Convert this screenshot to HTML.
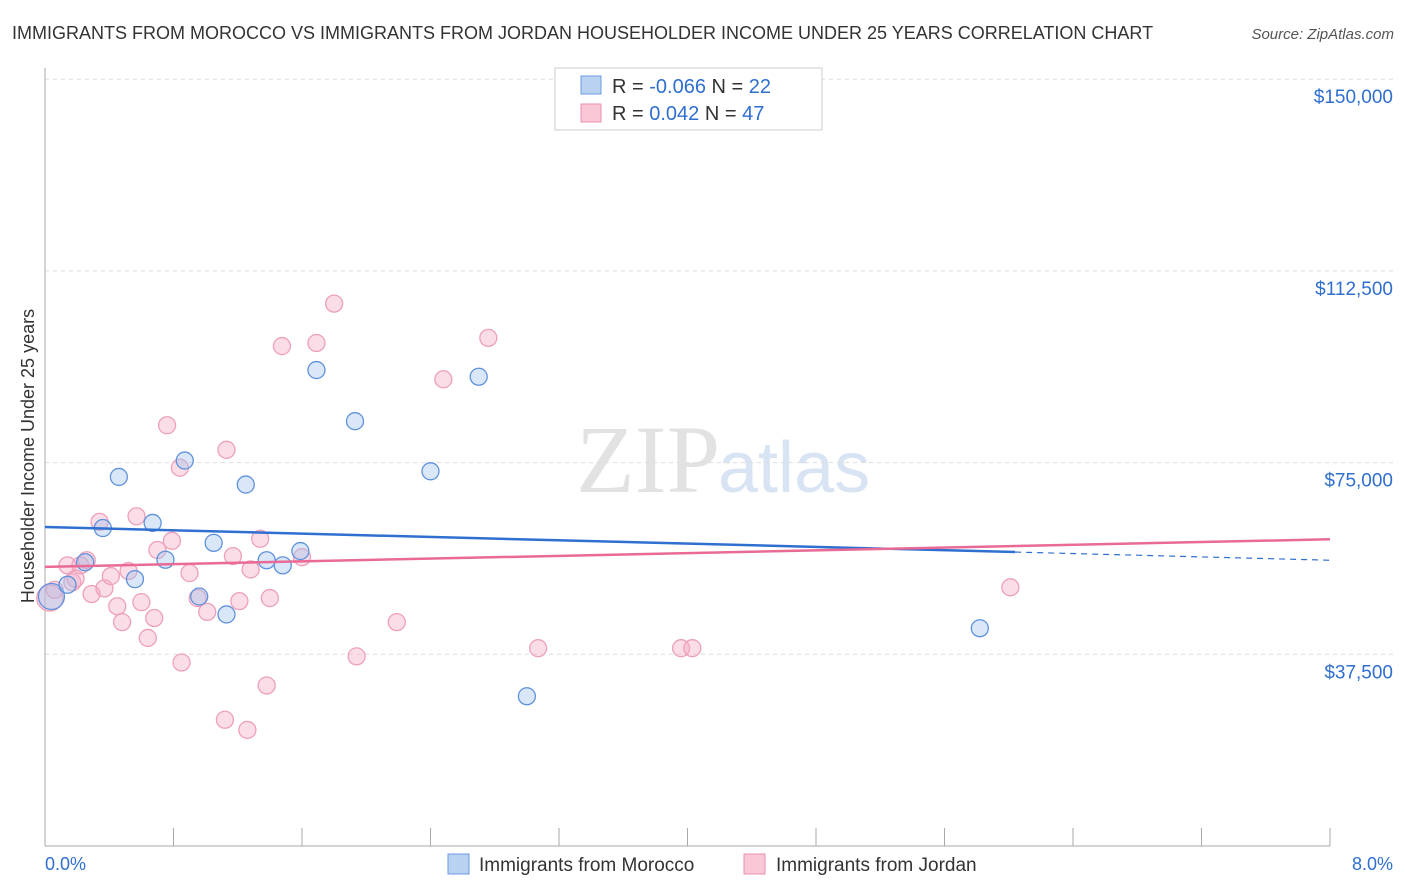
<!DOCTYPE html>
<html><head><meta charset="utf-8"><style>
body{margin:0;background:#fff;font-family:"Liberation Sans",sans-serif;}
#wrap{position:relative;width:1406px;height:892px;overflow:hidden}
</style></head><body>
<div id="wrap">
<svg id="svg" width="1406" height="892" xmlns="http://www.w3.org/2000/svg">
<text x="12" y="39" font-size="18" fill="#333">IMMIGRANTS FROM MOROCCO VS IMMIGRANTS FROM JORDAN HOUSEHOLDER INCOME UNDER 25 YEARS CORRELATION CHART</text>
<text x="1394" y="39" font-size="15" fill="#555" font-style="italic" text-anchor="end">Source: ZipAtlas.com</text>
<text x="720" y="492" font-size="96" fill="#e2e2e2" text-anchor="end" font-family="Liberation Serif">ZIP</text>
<text x="718" y="492" font-size="72" fill="#d8e4f4">atlas</text>
<text transform="translate(34,456) rotate(-90)" font-size="18" fill="#333" text-anchor="middle">Householder Income Under 25 years</text>
<g id="grid"></g><g id="marks"></g>
<g>
<rect x="555" y="68" width="267" height="62" fill="#fff" stroke="#ccc"/>
<rect x="581" y="76" width="20" height="18" fill="#b9d2f2" stroke="#6a9be0"/>
<rect x="581" y="104" width="20" height="18" fill="#f9c7d6" stroke="#ec8fae"/>
<text x="612" y="93" font-size="20" fill="#333">R = <tspan fill="#2f6fd0">-0.066</tspan>   N = <tspan fill="#2f6fd0">22</tspan></text>
<text x="612" y="120" font-size="20" fill="#333">R =   <tspan fill="#2f6fd0">0.042</tspan>   N = <tspan fill="#2f6fd0">47</tspan></text>
</g>
<g>
<rect x="448" y="854" width="21" height="20" fill="#b9d2f2" stroke="#6a9be0"/>
<text x="479" y="871" font-size="19" fill="#333">Immigrants from Morocco</text>
<rect x="744" y="854" width="21" height="20" fill="#f9c7d6" stroke="#ec8fae"/>
<text x="776" y="871" font-size="19" fill="#333">Immigrants from Jordan</text>
</g>
<text x="45" y="870" font-size="18" fill="#2f6fd0">0.0%</text>
<text x="1393" y="870" font-size="18" fill="#2f6fd0" text-anchor="end">8.0%</text>
</svg></div>
<script>
const yTicks=[37500,75000,112500,150000];
const yTickLabels=["$37,500","$75,000","$112,500","$150,000"];
const blueX=[0.04,0.14,0.36,0.46,0.56,0.67,0.75,0.87,0.96,1.05,1.13,1.25,1.38,1.48,1.59,1.69,1.93,2.40,2.70,3.00,5.82,0.25];
const blueY=[48800,51100,62200,72200,52200,63200,56000,75400,48800,59300,45300,70700,55900,54900,57700,93100,83100,73300,91800,29300,42600,55500];
const pinkX=[0.03,0.06,0.14,0.17,0.22,0.26,0.29,0.34,0.37,0.41,0.45,0.48,0.52,0.57,0.60,0.64,0.68,0.70,0.76,0.79,0.84,0.85,0.90,0.95,1.01,1.12,1.13,1.17,1.21,1.26,1.28,1.34,1.38,1.40,1.475,1.60,1.69,1.80,1.94,2.19,2.48,2.76,3.07,3.96,4.03,6.01,0.19];
const pinkY=[48500,50100,54900,51600,54900,55900,49300,63400,50400,52800,46900,43800,53800,64500,47700,40700,44600,57900,82300,59700,74000,35900,53400,48500,45800,24700,77500,56700,47900,22700,54100,60100,31400,48500,97800,56500,98400,106100,37100,43800,91300,99400,38700,38700,38700,50600,52300];
const X=v=>45+v/8*1285, Y=v=>846-v/37500*191.7;
const ns="http://www.w3.org/2000/svg";
const grid=document.getElementById('grid'), marks=document.getElementById('marks');
function mk(tag,at,parent){const e=document.createElementNS(ns,tag);for(const k in at)e.setAttribute(k,at[k]);parent.appendChild(e);return e;}
yTicks.forEach((t,i)=>{
 const l=mk('line',{x1:45,x2:1393,y1:Y(t),y2:Y(t),stroke:'#ddd','stroke-dasharray':'4,4'},grid);
 
 
 const tx=mk('text',{x:1393,y:Y(t)+24,'font-size':19,fill:'#2f6fd0','text-anchor':'end'},grid);
 tx.textContent=yTickLabels[i];
 
 
});
const ax=mk('line',{x1:45,x2:45,y1:68,y2:846,stroke:'#aaa'},grid);


const bx=mk('line',{x1:45,x2:1330,y1:846,y2:846,stroke:'#aaa'},grid);


for(let i=1;i<=10;i++){
 const t=mk('line',{x1:X(i*0.8),x2:X(i*0.8),y1:828,y2:846,stroke:'#aaa'},grid);
 
 
}
pinkX.forEach((v,i)=>{
 const c=mk('circle',{cx:X(v),cy:Y(pinkY[i]),r:i==0?13:8.5,fill:'rgba(246,170,195,0.4)',stroke:'#eea0ba','stroke-width':1.3},marks);
 
 
});
blueX.forEach((v,i)=>{
 const c=mk('circle',{cx:X(v),cy:Y(blueY[i]),r:i==0?13:8.5,fill:'rgba(160,195,240,0.4)',stroke:'#5f92dc','stroke-width':1.3},marks);
 
 
});
const bt=mk('line',{x1:X(0),y1:Y(62400),x2:X(6.04),y2:Y(57500),stroke:'#2f6fd0','stroke-width':2.5},marks);


const bd=mk('line',{x1:X(6.04),y1:Y(57500),x2:X(8),y2:Y(55900),stroke:'#2f6fd0','stroke-width':1.2,'stroke-dasharray':'6,5'},marks);


const pt=mk('line',{x1:X(0),y1:Y(54600),x2:X(8),y2:Y(60000),stroke:'#e96a95','stroke-width':2.5},marks);


</script>
</body></html>
